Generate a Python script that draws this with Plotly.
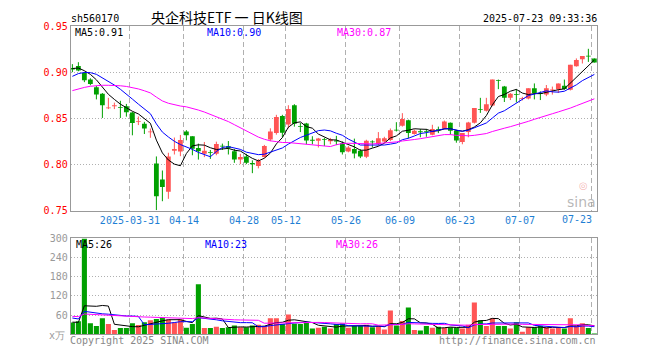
import plotly.graph_objects as go
import pandas as pd

# ---------------- data ----------------
open_ = [0.9045, 0.9066, 0.8990, 0.8920, 0.8837, 0.8767, 0.8608, 0.8632, 0.8620, 0.8632,
         0.8563, 0.8462, 0.8441, 0.8348, 0.8011, 0.7837, 0.7706, 0.8150, 0.8142, 0.8358,
         0.8306, 0.8178, 0.8115, 0.8133, 0.8115, 0.8202, 0.8198, 0.8143, 0.8053, 0.8087,
         0.8017, 0.7983, 0.8080, 0.8271, 0.8340, 0.8524, 0.8434, 0.8642, 0.8415, 0.8444,
         0.8264, 0.8258, 0.8274, 0.8253, 0.8257, 0.8230, 0.8142, 0.8167, 0.8149, 0.8084,
         0.8246, 0.8219, 0.8250, 0.8265, 0.8374, 0.8420, 0.8479, 0.8330, 0.8358, 0.8360,
         0.8323, 0.8380, 0.8388, 0.8451, 0.8365, 0.8243, 0.8351, 0.8451, 0.8597, 0.8583,
         0.8640, 0.8913, 0.8844, 0.8722, 0.8760, 0.8712, 0.8715, 0.8826, 0.8771, 0.8757,
         0.8802, 0.8816, 0.8854, 0.8809, 0.9063, 0.9139, 0.9177, 0.9149]
high = [0.9087, 0.9108, 0.9003, 0.8934, 0.8851, 0.8774, 0.8722, 0.8670, 0.8690, 0.8656,
        0.8570, 0.8520, 0.8462, 0.8390, 0.8087, 0.7935, 0.8127, 0.8292, 0.8320, 0.8372,
        0.8306, 0.8226, 0.8244, 0.8157, 0.8247, 0.8226, 0.8254, 0.8167, 0.8115, 0.8115,
        0.8045, 0.8059, 0.8212, 0.8392, 0.8538, 0.8538, 0.8642, 0.8653, 0.8451, 0.8451,
        0.8306, 0.8288, 0.8288, 0.8288, 0.8310, 0.8250, 0.8201, 0.8280, 0.8167, 0.8268,
        0.8262, 0.8351, 0.8300, 0.8390, 0.8458, 0.8556, 0.8486, 0.8380, 0.8385, 0.8385,
        0.8430, 0.8410, 0.8476, 0.8455, 0.8375, 0.8340, 0.8462, 0.8611, 0.8722, 0.8722,
        0.8920, 0.8920, 0.8851, 0.8774, 0.8816, 0.8733, 0.8826, 0.8878, 0.8792, 0.8861,
        0.8844, 0.8878, 0.8920, 0.9080, 0.9149, 0.9174, 0.9253, 0.9149]
low = [0.9000, 0.9010, 0.8892, 0.8858, 0.8705, 0.8504, 0.8600, 0.8600, 0.8504, 0.8518,
       0.8316, 0.8427, 0.8330, 0.8289, 0.7506, 0.7602, 0.7628, 0.8108, 0.8090, 0.8262,
       0.8100, 0.8053, 0.8080, 0.8060, 0.8100, 0.8157, 0.8108, 0.8018, 0.8004, 0.8004,
       0.7906, 0.7958, 0.8073, 0.8253, 0.8323, 0.8295, 0.8392, 0.8410, 0.8351, 0.8219,
       0.8219, 0.8184, 0.8200, 0.8219, 0.8210, 0.8108, 0.8132, 0.8066, 0.8069, 0.8069,
       0.8184, 0.8205, 0.8236, 0.8253, 0.8358, 0.8410, 0.8283, 0.8323, 0.8295, 0.8300,
       0.8316, 0.8340, 0.8380, 0.8323, 0.8236, 0.8219, 0.8295, 0.8444, 0.8559, 0.8573,
       0.8630, 0.8816, 0.8677, 0.8698, 0.8672, 0.8694, 0.8705, 0.8705, 0.8698, 0.8740,
       0.8757, 0.8774, 0.8809, 0.8802, 0.9060, 0.9094, 0.9111, 0.9104]
close = [0.9028, 0.9017, 0.8913, 0.8872, 0.8757, 0.8643, 0.8615, 0.8638, 0.8615, 0.8565,
         0.8450, 0.8470, 0.8390, 0.8355, 0.7655, 0.7756, 0.8087, 0.8167, 0.8266, 0.8318,
         0.8170, 0.8143, 0.8150, 0.8126, 0.8222, 0.8195, 0.8178, 0.8053, 0.8080, 0.8018,
         0.8003, 0.8038, 0.8201, 0.8358, 0.8514, 0.8345, 0.8600, 0.8440, 0.8408, 0.8260,
         0.8258, 0.8281, 0.8267, 0.8271, 0.8250, 0.8132, 0.8184, 0.8118, 0.8087, 0.8256,
         0.8240, 0.8285, 0.8285, 0.8370, 0.8367, 0.8494, 0.8340, 0.8365, 0.8350, 0.8355,
         0.8385, 0.8374, 0.8465, 0.8365, 0.8260, 0.8340, 0.8455, 0.8611, 0.8590, 0.8653,
         0.8920, 0.8906, 0.8722, 0.8767, 0.8753, 0.8719, 0.8826, 0.8774, 0.8764, 0.8826,
         0.8809, 0.8878, 0.8819, 0.9080, 0.9132, 0.9174, 0.9170, 0.9104]
volume = [37, 41, 298, 35, 26, 50, 32, 14, 20, 20, 35, 29, 38, 44, 48, 52, 46, 37, 46, 21,
          32, 156, 20, 20, 24, 20, 22, 28, 22, 22, 28, 30, 26, 50, 50, 32, 62, 33, 32, 38,
          18, 21, 24, 18, 32, 34, 21, 26, 26, 30, 22, 26, 15, 74, 28, 42, 84, 14, 12, 26,
          21, 24, 20, 22, 21, 18, 30, 99, 44, 26, 50, 26, 26, 18, 38, 8, 22, 22, 26, 22,
          18, 22, 18, 50, 26, 35, 20, 3]
# sessions before the visible window (only feed the moving averages)
pre_close = [0.842, 0.846, 0.850, 0.852, 0.856, 0.862, 0.868, 0.873, 0.878, 0.881,
             0.892, 0.899, 0.905, 0.902, 0.900, 0.884, 0.872, 0.861, 0.858, 0.864,
             0.872, 0.879, 0.889, 0.894, 0.901, 0.899, 0.906, 0.907, 0.905]
pre_volume = [62, 55, 70, 48, 52, 66, 58, 61, 50, 57, 64, 53, 59, 60, 55, 62, 57, 54, 59, 68,
              72, 60, 66, 58, 64, 44, 40, 36, 33]

tick_index = [10, 19, 29, 36, 46, 55, 65, 75, 87]
tick_labels = ["2025-03-31", "04-14", "04-28", "05-12", "05-26", "06-09", "06-23", "07-07", "07-23"]

code = "sh560170"
title = "央企科技ETF 一 日K线图"
stamp = "2025-07-23 09:33:36"
price_ma_text = ["MA5:0.91", "MA10:0.90", "MA30:0.87"]
vol_ma_text = ["MA5:26", "MA10:23", "MA30:26"]
price_ticks = [0.75, 0.80, 0.85, 0.90, 0.95]
vol_ticks = [60, 120, 180, 240, 300]

# ---------------- derived ----------------
n = len(close)
idx = list(range(n))
npre = len(pre_close)
cs = pd.Series(pre_close + close)
vs = pd.Series(pre_volume + volume)
ma_p = {k: cs.rolling(k).mean().iloc[npre:].tolist() for k in (5, 10, 30)}
ma_v = {k: vs.rolling(k).mean().iloc[npre:].tolist() for k in (5, 10, 30)}

RED = "#ff5555"
GREEN = "#00a000"
MA_COL = {5: "#000000", 10: "#0000ff", 30: "#ff00ff"}
GRID = "#b0b0b0"
BORDER = "#999999"
MONO = "DejaVu Sans Mono"

up = [c >= o for o, c in zip(open_, close)]
colors = [RED if u else GREEN for u in up]

fig = go.Figure()

# wicks
for flag, col in ((True, RED), (False, GREEN)):
    xs, ys = [], []
    for i in idx:
        if up[i] == flag:
            xs += [i, i, None]
            ys += [low[i], high[i], None]
    fig.add_trace(go.Scatter(x=xs, y=ys, mode="lines", line=dict(color=col, width=1),
                             hoverinfo="skip", xaxis="x", yaxis="y"))

# bodies
base = [min(o, c) for o, c in zip(open_, close)]
height = [max(abs(c - o), 0.0009) for o, c in zip(open_, close)]
fig.add_trace(go.Bar(x=idx, y=height, base=base, width=0.8, marker=dict(color=colors, line=dict(width=0)),
                     xaxis="x", yaxis="y"))

for k in (5, 10, 30):
    fig.add_trace(go.Scatter(x=idx, y=ma_p[k], mode="lines", line=dict(color=MA_COL[k], width=1),
                             xaxis="x", yaxis="y"))

# volume
fig.add_trace(go.Bar(x=idx, y=volume, width=0.85, marker=dict(color=colors, line=dict(width=0)),
                     xaxis="x2", yaxis="y2"))
for k in (5, 10, 30):
    fig.add_trace(go.Scatter(x=idx, y=ma_v[k], mode="lines", line=dict(color=MA_COL[k], width=1),
                             xaxis="x2", yaxis="y2"))

W, H = 660, 360
X0, X1 = 70.7, 597.3
PY0, PY1 = 20.7, 211.7
VY0, VY1 = 240.0, 339.7
xr = [-0.28, 87.49]
gridx = [t - 0.4 for t in tick_index]

axis_common = dict(showline=True, mirror=True, linecolor=BORDER, linewidth=1, zeroline=False,
                   ticks="", fixedrange=True)

fig.update_layout(
    width=W, height=H, margin=dict(l=0, r=0, t=0, b=0),
    paper_bgcolor="white", plot_bgcolor="white", showlegend=False, barmode="overlay",
    xaxis=dict(domain=[X0 / W, X1 / W], range=xr, anchor="y",
               tickmode="array", tickvals=gridx,
               ticktext=tick_labels[:-1] + [""],
               tickfont=dict(family=MONO, size=10, color="#1f7fd4"),
               showgrid=True, gridcolor=GRID, griddash="5px,3px", gridwidth=1, **axis_common),
    yaxis=dict(domain=[1 - PY1 / H, 1 - PY0 / H], range=[0.75, 0.95], anchor="x",
               tickmode="array", tickvals=price_ticks, ticktext=["%.2f" % v for v in price_ticks],
               tickfont=dict(family=MONO, size=10, color="#ff0000"),
               showgrid=True, gridcolor=GRID, griddash="1px,2px", gridwidth=1, **axis_common),
    xaxis2=dict(domain=[X0 / W, X1 / W], range=xr, anchor="y2", showticklabels=False,
                tickmode="array", tickvals=gridx,
                showgrid=True, gridcolor=GRID, griddash="5px,3px", gridwidth=1, **axis_common),
    yaxis2=dict(domain=[1 - VY1 / H, 1 - VY0 / H], range=[0, 300], anchor="x2",
                tickmode="array", tickvals=vol_ticks, ticktext=[str(v) for v in vol_ticks],
                tickfont=dict(family=MONO, size=10, color="#999999"),
                showgrid=True, gridcolor=GRID, griddash="1px,2px", gridwidth=1, **axis_common),
)


def txt(s, px, py, color="#000000", size=10, family=MONO, anchor="left", **kw):
    fig.add_annotation(text=s, x=px / W, y=1 - py / H, xref="paper", yref="paper",
                       xanchor=anchor, yanchor="middle", showarrow=False, borderpad=0,
                       font=dict(family=family, size=size, color=color), **kw)


txt(code, 69.5, 13)
txt(title, 150, 11.5, size=14, family="Noto Sans CJK SC")
txt(stamp, 598, 13, anchor="right")
for s, px, col in zip(price_ma_text, (74, 205.5, 335.8), ("#000000", "#0000ff", "#ff00ff")):
    txt(s, px, 27, color=col)
for s, px, col in zip(vol_ma_text, (74.5, 204, 335), ("#000000", "#0000ff", "#ff00ff")):
    txt(s, px, 246.5, color=col)
txt("x万", 66, 341, color="#999999", anchor="right")
txt("Copyright 2025 SINA.COM", 69.3, 346, color="#888888")
txt("http://finance.sina.com.cn", 597.3, 346, color="#888888", anchor="right")
txt("◎", 583, 186, color="rgba(235,120,120,0.55)", size=10, family="DejaVu Sans", anchor="center")
txt("sina", 597, 203, color="rgba(160,160,160,0.75)", size=14, family="DejaVu Sans",
    anchor="right")
# last date label sits inside the right edge
fig.add_annotation(text=tick_labels[-1], x=xr[1], y=1 - 221 / H, xref="x", yref="paper",
                   xanchor="right", yanchor="middle", showarrow=False, xshift=-3,
                   font=dict(family=MONO, size=10, color="#1f7fd4"))

fig.write_html("out.html", config={"displayModeBar": False, "staticPlot": True},
               post_script="document.body.style.margin='0px';document.body.style.overflow='hidden';")
